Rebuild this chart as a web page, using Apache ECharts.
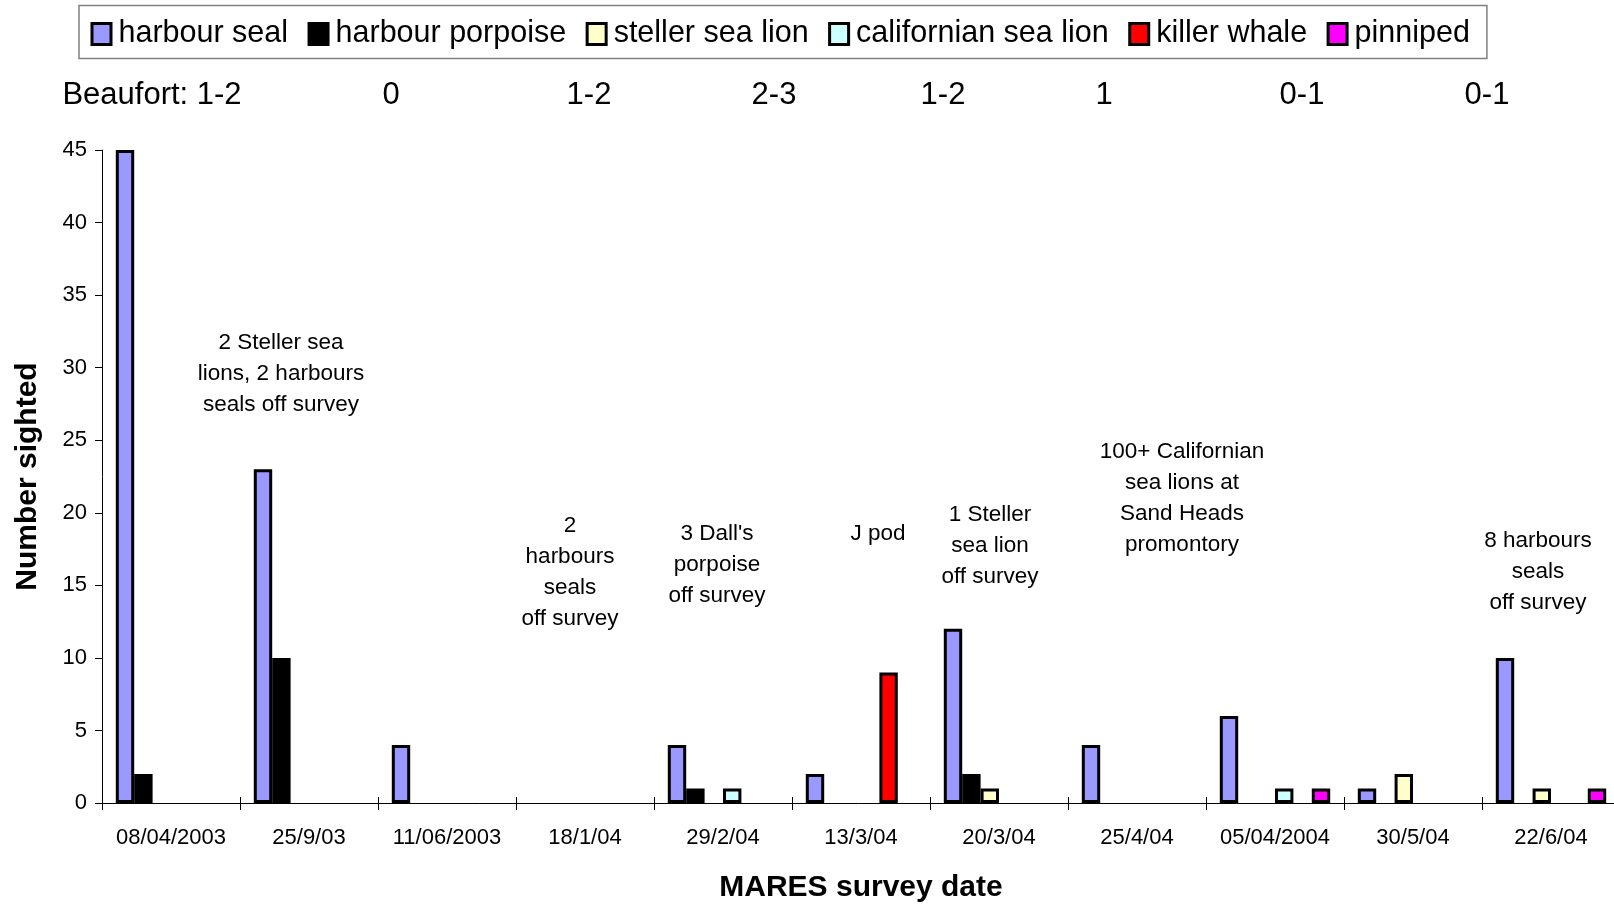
<!DOCTYPE html>
<html>
<head>
<meta charset="utf-8">
<script src="https://cdn.jsdelivr.net/npm/echarts@6/dist/echarts.min.js"></script>
<style>
  html, body { margin: 0; padding: 0; background: #fff; }
  #chart { width: 1614px; height: 904px; }
</style>
</head>
<body>
<div id="chart"></div>
<script>
// ---- data ----
const categories = ['08/04/2003', '25/9/03', '11/06/2003', '18/1/04', '29/2/04', '13/3/04', '20/3/04', '25/4/04', '05/04/2004', '30/5/04', '22/6/04'];
const harbourSeal        = [45, 23, 4, null, 4, 2, 12, 4, 6, 1, 10];
const harbourPorpoise    = [2, 10, null, null, 1, null, 2, null, null, null, null];
const stellerSeaLion     = [null, null, null, null, null, null, 1, null, null, 2, 1];
const californianSeaLion = [null, null, null, null, 1, null, null, null, 1, null, null];
const killerWhale        = [null, null, null, null, null, 9, null, null, null, null, null];
const pinniped           = [null, null, null, null, null, null, null, null, 1, null, 1];

const seriesNames = ['harbour seal', 'harbour porpoise', 'steller sea lion', 'californian sea lion', 'killer whale', 'pinniped'];
const seriesColors = ['#9999FF', '#000000', '#FFFFCC', '#CCFFFF', '#FF0000', '#FF00FF'];
const seriesValues = [harbourSeal, harbourPorpoise, stellerSeaLion, californianSeaLion, killerWhale, pinniped];

const beaufortLabels = ['Beaufort: 1-2', '0', '1-2', '2-3', '1-2', '1', '0-1', '0-1'];
const beaufortX = [152, 391, 589, 774, 943, 1104, 1302, 1487];

const annotations = [
  '2 Steller sea\nlions, 2 harbours\nseals off survey',
  '2\nharbours\nseals\noff survey',
  "3 Dall's\nporpoise\noff survey",
  'J pod',
  '1 Steller\nsea lion\noff survey',
  '100+ Californian\nsea lions at\nSand Heads\npromontory',
  '8 harbours\nseals\noff survey'
];
const annotationPos = [[281, 327], [570, 510.5], [717, 518.5], [878, 518.5], [990, 499], [1182, 436], [1538, 525.5]];

const yTicks = { min: 0, max: 45, interval: 5 };

// ---- chart ----
const FONT = 'Liberation Sans, Arial, Helvetica, sans-serif';
const chart = echarts.init(document.getElementById('chart'), null, { renderer: 'canvas' });

const graphics = [];
beaufortLabels.forEach((t, i) => {
  graphics.push({
    type: 'text', x: beaufortX[i], y: 95.5,
    style: { text: t, fontFamily: FONT, fontSize: 31, fill: '#000', align: 'center', verticalAlign: 'middle' }
  });
});
annotations.forEach((t, i) => {
  graphics.push({
    type: 'text', x: annotationPos[i][0], y: annotationPos[i][1],
    style: { text: t, fontFamily: FONT, fontSize: 22.5, lineHeight: 31, fill: '#000', align: 'center', verticalAlign: 'top' }
  });
});

const option = {
  animation: false,
  backgroundColor: '#fff',
  legend: {
    left: 79, top: 5.5,
    padding: [13, 17, 9, 11.5],
    borderColor: '#808080', borderWidth: 1.5,
    itemWidth: 19, itemHeight: 21, itemGap: 19.5,
    icon: 'rect',
    symbolKeepAspect: false,
    itemStyle: { borderColor: '#000', borderWidth: 3 },
    textStyle: { fontFamily: FONT, fontSize: 30.5, color: '#000', padding: [0, 0, 0, 2.5] },
    data: seriesNames
  },
  grid: { left: 102, top: 150, width: 1518, height: 653, containLabel: false, outerBoundsMode: 'none' },
  xAxis: [{
    type: 'category',
    data: categories,
    boundaryGap: true,
    name: 'MARES survey date',
    nameLocation: 'middle',
    nameGap: 70,
    nameTextStyle: { fontFamily: FONT, fontSize: 30, fontWeight: 'bold', color: '#000' },
    axisLine: { show: true, lineStyle: { color: '#000', width: 1 } },
    axisTick: { show: true, length: 7, interval: 0, lineStyle: { color: '#000', width: 1 } },
    axisLabel: { interval: 0, margin: 24, fontFamily: FONT, fontSize: 22, color: '#000' },
    splitLine: { show: false }
  }, {
    type: 'category',
    data: categories,
    position: 'bottom',
    boundaryGap: true,
    axisLine: { show: false },
    axisTick: { show: true, inside: true, length: 6, interval: 0, lineStyle: { color: '#000', width: 1 } },
    axisLabel: { show: false },
    splitLine: { show: false }
  }],
  yAxis: {
    type: 'value',
    min: yTicks.min, max: yTicks.max, interval: yTicks.interval,
    name: 'Number sighted',
    nameLocation: 'middle',
    nameGap: 59,
    nameTextStyle: { fontFamily: FONT, fontSize: 30, fontWeight: 'bold', color: '#000' },
    axisLine: { show: true, lineStyle: { color: '#000', width: 1 } },
    axisTick: { show: true, length: 7, lineStyle: { color: '#000', width: 1 } },
    axisLabel: { margin: 15, fontFamily: FONT, fontSize: 22, color: '#000' },
    splitLine: { show: false }
  },
  series: seriesNames.map((name, i) => ({
    name: name,
    type: 'bar',
    xAxisIndex: 0,
    data: seriesValues[i],
    barGap: '0%',
    barCategoryGap: '20%',
    itemStyle: { color: seriesColors[i], borderColor: '#000', borderWidth: 3 },
    emphasis: { disabled: true }
  })),
  graphic: graphics
};
chart.setOption(option);
</script>
</body>
</html>
